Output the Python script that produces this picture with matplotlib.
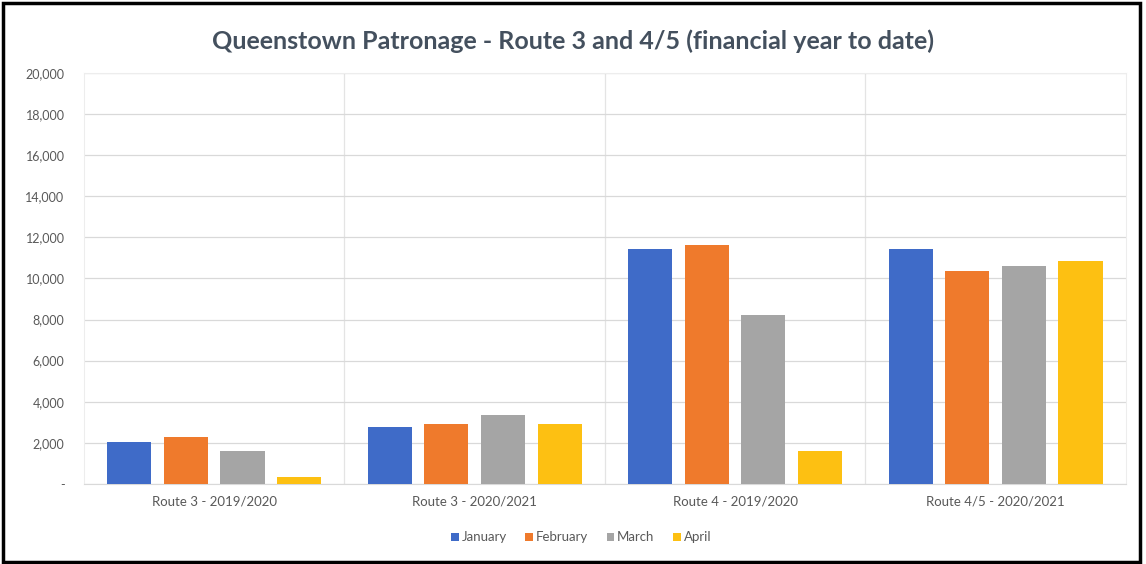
import numpy as np
import matplotlib.pyplot as plt
from matplotlib.patches import Rectangle
from matplotlib.ticker import FuncFormatter

plt.rcParams['font.family'] = ['Lato', 'DejaVu Sans']

# Data
categories = ['Route 3 - 2019/2020', 'Route 3 - 2020/2021',
              'Route 4 - 2019/2020', 'Route 4/5 - 2020/2021']
months = ['January', 'February', 'March', 'April']
january = [2050, 2770, 11450, 11420]
february = [2280, 2920, 11620, 10340]
march = [1600, 3330, 8230, 10630]
april = [330, 2910, 1600, 10840]
series = [january, february, march, april]
colors = ['#3F6BC8', '#EF7A2C', '#A5A5A5', '#FDC012']

fig = plt.figure(figsize=(11.46, 5.64), dpi=100)
ax = fig.add_axes([0.0733, 0.142, 0.9092, 0.7286])

x = np.arange(len(categories))
width = 0.169
step = 0.217
for i, (vals, name, col) in enumerate(zip(series, months, colors)):
    ax.bar(x + (i - 1.5) * step, vals, width, color=col, label=name, zorder=3)

ax.set_xlim(-0.5, len(categories) - 0.5)
ax.set_ylim(0, 20000)
ax.set_yticks(np.arange(0, 20001, 2000))
ax.yaxis.set_major_formatter(FuncFormatter(lambda v, p: '-' if v == 0 else f'{int(v):,}'))
ax.set_xticks(x)
ax.set_xticklabels(categories)
ax.set_xticks(np.arange(0.5, len(categories) - 0.5, 1), minor=True)

ax.grid(axis='y', color='#D9D9D9', linewidth=0.9, zorder=0)
ax.grid(axis='x', which='minor', color='#E4E4E4', linewidth=0.9, zorder=0)
ax.tick_params(axis='both', which='both', length=0, labelsize=9, labelcolor='#595959')
ax.tick_params(axis='x', labelsize=9.5, pad=8)
ax.tick_params(axis='y', pad=14)
for side in ['left', 'right', 'top']:
    ax.spines[side].set_color('#EDEDED')
ax.spines['bottom'].set_color('#D9D9D9')

fig.suptitle('Queenstown Patronage - Route 3 and 4/5 (financial year to date)',
             fontsize=18, fontweight='bold', color='#44505E', y=0.948)

fig.legend(loc='center', bbox_to_anchor=(0.507, 0.047), ncol=4, frameon=False,
           fontsize=9.5, labelcolor='#595959', handlelength=0.6, handleheight=0.6,
           handletextpad=0.2, columnspacing=1.4)

# outer frame like the pasted screenshot border
fig.patches.append(Rectangle((0.003, 0.003), 0.992, 0.992, transform=fig.transFigure,
                             fill=False, edgecolor='black', linewidth=2.5))

fig.savefig('out.png', dpi=100, facecolor='white')
